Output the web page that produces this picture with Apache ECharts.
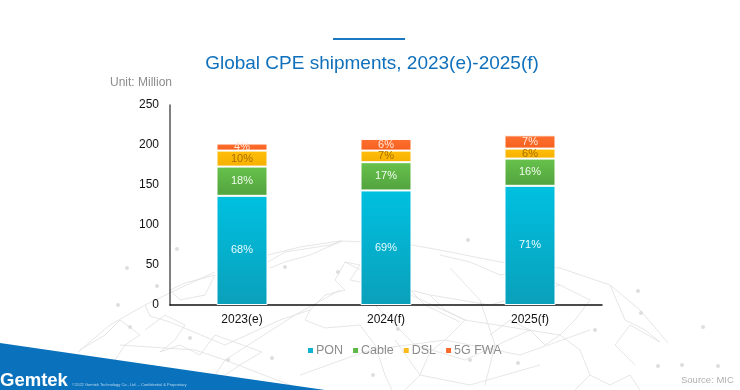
<!DOCTYPE html>
<html><head><meta charset="utf-8">
<style>html,body{margin:0;padding:0;background:#fff}#c{width:740px;height:390px}</style>
<script src="https://cdn.jsdelivr.net/npm/echarts@6/dist/echarts.min.js"></script>
</head><body><div id="c"></div>
<script>
const categories = ['2023(e)', '2024(f)', '2025(f)'];
const pon = [136.5, 143.2, 149];
const cable = [36.5, 35.3, 34];
const dsl = [20, 14.5, 12.5];
const fwa = [8.8, 14.6, 16.6];
const totals = [201.8, 207.6, 212.1];
const ponPct = ['68%', '69%', '71%'];
const cablePct = ['18%', '17%', '16%'];
const dslPct = ['10%', '7%', '6%'];
const fwaPct = ['4%', '6%', '7%'];

const FONT = '"Liberation Sans", Arial, sans-serif';
const grad = (a, b) => new echarts.graphic.LinearGradient(0, 0, 0, 1, [{offset: 0, color: a}, {offset: 1, color: b}]);
const seg = (name, data, pct, top, bottom, labelColor) => ({
  name, type: 'bar', stack: 'a', barWidth: 51, data,
  itemStyle: {color: grad(top, bottom), borderColor: '#fff', borderWidth: 1},
  label: {show: true, position: 'inside', color: labelColor, fontFamily: FONT, fontSize: 11,
    formatter: p => pct[p.dataIndex]}
});

// decorative backdrop: faint globe network and coastlines
const decoLines = [
 [[78,352],[110,325],[145,305],[180,288],[215,272]],
 [[268,255],[300,247],[340,241],[400,243],[440,250],[500,262],[560,268],[610,285],[640,310],[668,343]],
 [[268,262],[285,252],[330,245],[342,241],[310,255],[285,262],[270,268]],
 [[170,290],[185,283],[215,275],[205,295],[180,300],[170,290]],
 [[80,350],[105,335],[120,320],[140,335],[125,345],[115,360]],
 [[145,330],[165,315],[185,325],[175,340],[160,352],[180,345],[200,355],[215,335],[262,352],[240,365],[225,375]],
 [[310,310],[325,295],[345,290],[335,280],[345,262],[360,265],[350,280],[375,285],[410,290],[430,295],[445,310],[465,320],[445,340],[430,352],[420,375],[405,390]],
 [[310,310],[305,320],[325,328],[360,325],[375,345],[385,375],[392,390]],
 [[410,290],[425,305],[460,322]],
 [[440,255],[470,262],[500,275],[530,270],[560,285],[590,300],[575,320],[560,335],[545,345],[530,330],[510,320],[490,335]],
 [[560,335],[580,350],[590,375],[575,390]],
 [[610,285],[625,320],[645,330],[660,342],[630,325],[615,345],[635,365]],
 [[590,375],[610,385],[630,375],[640,390]],
 [[145,305],[150,316],[170,322],[225,345],[280,320],[310,310]],
 [[205,390],[225,360],[295,315],[340,290]],
 [[120,345],[195,350],[225,360],[290,385]],
 [[345,262],[400,290],[465,320],[560,335]],
 [[430,295],[490,305],[560,285]],
 [[370,300],[415,345],[465,360],[530,330]],
 [[300,375],[370,350],[445,340],[520,355],[590,330]],
 [[395,340],[420,375],[470,385],[540,365]],
 [[450,268],[480,300],[495,345],[485,385]]
];
const decoDots = [[177,249],[127,268],[157,286],[118,305],[130,327],[285,267],[468,240],[638,291],[641,313],[703,327],[658,366],[682,365],[718,366],[272,358],[373,375],[518,363],[338,272],[190,338],[228,360],[398,329],[470,360],[595,330]];
const graphic = [];
decoLines.forEach(p => graphic.push({type: 'polyline', silent: true, z: -1, shape: {points: p}, style: {stroke: '#e0e0e0', lineWidth: 0.8, fill: null}}));
decoDots.forEach(d => graphic.push({type: 'circle', silent: true, z: -1, shape: {cx: d[0], cy: d[1], r: 2}, style: {fill: '#dedede'}}));
graphic.push(
 {type: 'rect', silent: true, shape: {x: 333, y: 38, width: 72, height: 2}, style: {fill: '#1a78c2'}},
 {type: 'polygon', silent: true, z: 1, shape: {points: [[0,343],[200,372],[325,390],[0,390]]}, style: {fill: '#0a72bd'}},
 {type: 'text', silent: true, z: 2, left: 0, top: 371, style: {text: 'Gemtek', fill: '#fff', font: 'bold 18.5px ' + FONT}},
 {type: 'text', silent: true, z: 2, left: 72, top: 383, style: {text: '©2022 Gemtek Technology Co., Ltd. – Confidential & Proprietary', fill: '#b5d6ee', font: '4px ' + FONT}},
 {type: 'text', silent: true, left: 110, top: 77, style: {text: 'Unit: Million', fill: '#8c8c8c', font: '12px ' + FONT}},
 {type: 'text', silent: true, left: 681, top: 375, style: {text: 'Source: MIC', fill: '#b0b0b0', font: '9.5px ' + FONT}}
);

const chart = echarts.init(document.getElementById('c'), null, {renderer: 'canvas'});
chart.setOption({
  animation: false,
  backgroundColor: '#fff',
  title: {text: 'Global CPE shipments, 2023(e)-2025(f)', left: 367, textAlign: 'center', top: 49,
    textStyle: {color: '#1070bb', fontFamily: FONT, fontSize: 19, fontWeight: 'normal'}},
  grid: {left: 170, right: 138, top: 105, bottom: 85},
  legend: {
    data: ['PON', 'Cable', 'DSL', '5G FWA'].map((n, i) => ({name: n, itemStyle: {color: ['#0fb2d3', '#5cb947', '#fdbb1c', '#f9692a'][i], borderWidth: 0}})),
    left: 303, top: 339, icon: 'rect', itemWidth: 5, itemHeight: 5, itemGap: 10,
    textStyle: {color: '#8c8c8c', fontFamily: FONT, fontSize: 12.5, padding: [0, 0, 0, -2]}
  },
  xAxis: {type: 'category', data: categories,
    axisLine: {lineStyle: {color: '#111', width: 1.5}}, axisTick: {show: false},
    axisLabel: {color: '#111', fontFamily: FONT, fontSize: 12, margin: 9}},
  yAxis: {type: 'value', min: 0, max: 250, interval: 50,
    axisLine: {show: true, lineStyle: {color: '#555', width: 1.5}}, axisTick: {show: false},
    splitLine: {show: false},
    axisLabel: {color: '#111', fontFamily: FONT, fontSize: 12, margin: 11}},
  graphic,
  series: [
    seg('PON', pon, ponPct, '#00c0e0', '#0aa0ba', '#e8fbff'),
    seg('Cable', cable, cablePct, '#67c24b', '#52a33f', '#f2fbee'),
    seg('DSL', dsl, dslPct, '#ffbe0a', '#f7b000', '#a86f00'),
    seg('5G FWA', fwa, fwaPct, '#ff7030', '#f5601e', '#ffe8dc'),
    {name: 'Total', type: 'line', data: totals, symbol: 'none', lineStyle: {opacity: 0}, silent: true,
     label: {show: true, position: 'top', distance: 6, color: '#666', fontFamily: FONT, fontSize: 12, fontWeight: 'bold'}}
  ]
});
</script></body></html>
